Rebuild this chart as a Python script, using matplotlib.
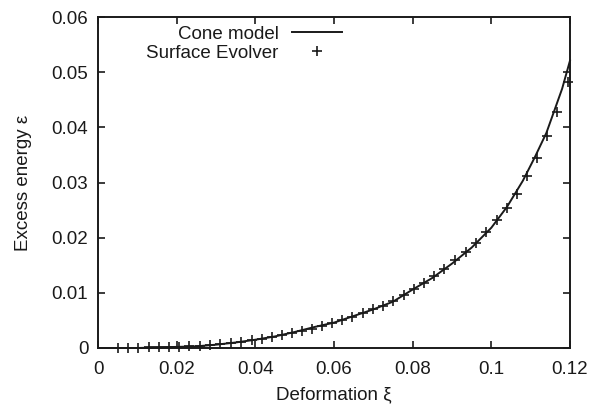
import matplotlib
matplotlib.use("Agg")
import matplotlib.pyplot as plt

plt.rcParams['font.family'] = ['Liberation Sans', 'DejaVu Sans']

# Surface Evolver data points
xi_points = [0.0050, 0.0076, 0.0102, 0.0129, 0.0155, 0.0181, 0.0205, 0.0232,
             0.0259, 0.0285, 0.0311, 0.0337, 0.0363, 0.0391, 0.0416, 0.0442,
             0.0467, 0.0492, 0.0518, 0.0543, 0.0569, 0.0595, 0.0620, 0.0647,
             0.0673, 0.0698, 0.0725, 0.0751, 0.0777, 0.0803, 0.0829, 0.0855,
             0.0880, 0.0908, 0.0935, 0.0961, 0.0987, 0.1014, 0.1039, 0.1065,
             0.1091, 0.1116, 0.1142, 0.1167, 0.1196]
eps_points = [0.0000, 0.0000, 0.0000, 0.0001, 0.0001, 0.0001, 0.0002, 0.0003,
              0.0004, 0.0005, 0.0007, 0.0009, 0.0011, 0.0014, 0.0017, 0.0020,
              0.0024, 0.0027, 0.0031, 0.0035, 0.0040, 0.0045, 0.0051, 0.0057,
              0.0063, 0.0070, 0.0077, 0.0085, 0.0096, 0.0107, 0.0117, 0.0130,
              0.0143, 0.0159, 0.0174, 0.0191, 0.0211, 0.0232, 0.0254, 0.0280,
              0.0311, 0.0345, 0.0384, 0.0427, 0.0483]

# Cone model curve
xi_model = [0.0000, 0.0050, 0.0100, 0.0150, 0.0200, 0.0250, 0.0300, 0.0350,
            0.0400, 0.0450, 0.0500, 0.0550, 0.0600, 0.0650, 0.0700, 0.0750,
            0.0800, 0.0850, 0.0900, 0.0950, 0.1000, 0.1040, 0.1080, 0.1110,
            0.1140, 0.1160, 0.1180, 0.1200]
eps_model = [0.0000, 0.0000, 0.0000, 0.0001, 0.0002, 0.0003, 0.0006, 0.0010,
             0.0015, 0.0021, 0.0029, 0.0038, 0.0046, 0.0058, 0.0070, 0.0084,
             0.0106, 0.0127, 0.0153, 0.0182, 0.0218, 0.0256, 0.0303, 0.0345,
             0.0390, 0.0430, 0.0470, 0.0521]

xticks = [0, 0.02, 0.04, 0.06, 0.08, 0.1, 0.12]
xticklabels = ['0', '0.02', '0.04', '0.06', '0.08', '0.1', '0.12']
yticks = [0, 0.01, 0.02, 0.03, 0.04, 0.05, 0.06]
yticklabels = ['0', '0.01', '0.02', '0.03', '0.04', '0.05', '0.06']

ink = '#1a1a1a'
fig = plt.figure(figsize=(5.9, 4.05), dpi=100)
ax = fig.add_axes([98/590, 1 - 348/405, 472/590, 331/405])

ax.plot(xi_model, eps_model, color=ink, lw=1.4, label='Cone model', clip_on=False)
ax.plot(xi_points, eps_points, ls='none', marker='+', ms=7.5, mew=1.2,
        color=ink, label='Surface Evolver', clip_on=False, zorder=3)

ax.set_xlim(0, 0.12)
ax.set_ylim(0, 0.06)
ax.set_xticks(xticks)
ax.set_xticklabels(xticklabels)
ax.set_yticks(yticks)
ax.set_yticklabels(yticklabels)
ax.tick_params(direction='in', length=5, width=1.2, top=True, right=True,
               labelsize=13.5, colors=ink, pad=7)
ax.tick_params(axis='x', pad=9)
for s in ax.spines.values():
    s.set_linewidth(1.4)
    s.set_color(ink)

ax.set_xlabel('Deformation ξ', fontsize=13.5, color=ink, labelpad=6)
ax.set_ylabel('Excess energy ε', fontsize=13.5, color=ink, labelpad=14)

leg = ax.legend(loc='upper right', bbox_to_anchor=((344 - 98) / 472, 1 - 7 / 331),
                frameon=False, markerfirst=False, fontsize=13.5,
                handlelength=2.7, handletextpad=0.7, labelspacing=0.1,
                borderpad=0.1, borderaxespad=0.0)
try:
    leg._legend_handle_box.get_children()[0].align = 'right'
except Exception:
    pass
for t in leg.get_texts():
    t.set_color(ink)

fig.savefig('out.png', dpi=100)
